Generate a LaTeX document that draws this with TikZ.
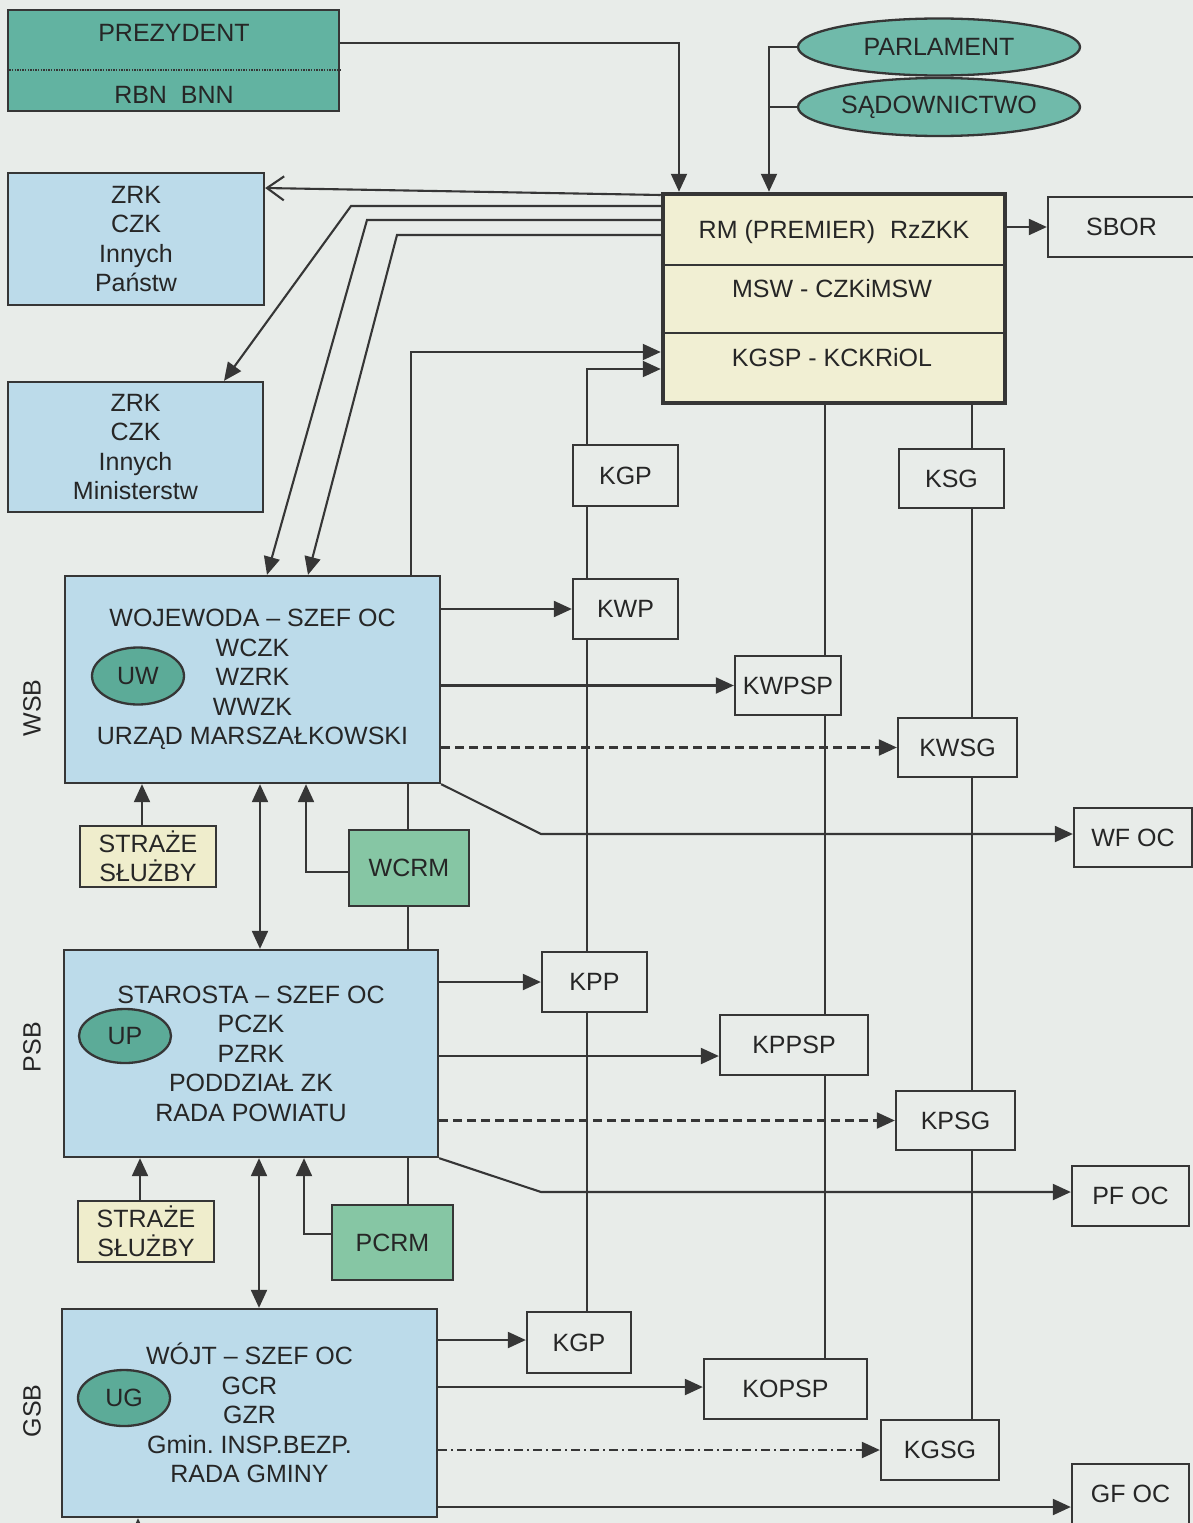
\documentclass[tikz,border=0pt]{standalone}
\usepackage{fontspec}
\setmainfont{Liberation Sans}
\usetikzlibrary{shapes.geometric,arrows.meta}
\frenchspacing
\definecolor{cBg}{HTML}{E8ECE9}
\definecolor{cTeal}{HTML}{62B3A1}
\definecolor{cTealE}{HTML}{70BAAA}
\definecolor{cTealS}{HTML}{5CAB98}
\definecolor{cBlue}{HTML}{BCDBEA}
\definecolor{cGreen}{HTML}{86C6A4}
\definecolor{cYel}{HTML}{EFEDCC}
\definecolor{cRM}{HTML}{F1EFD3}
\definecolor{cLine}{HTML}{363636}
\definecolor{cText}{HTML}{262626}
\tikzset{
  lbl/.style={text=cText, font=\fontsize{25}{29.5}\selectfont, align=center, inner sep=0pt},
  shp/.style={lbl, draw=cLine, line width=2.3pt},
  kbox/.style={shp, rectangle},
  bbox/.style={shp, rectangle, fill=cBlue},
  gbox/.style={shp, rectangle, fill=cGreen},
  ybox/.style={shp, rectangle, fill=cYel},
  oval/.style={shp, ellipse, fill=cTealS},
  conn/.style={draw=cLine, line width=2.1pt},
  arr/.style={conn, -{Triangle[length=18pt,width=16pt]}},
  darr/.style={conn, {Triangle[length=18pt,width=16pt]}-{Triangle[length=18pt,width=16pt]}},
  oarr/.style={conn, -{Straight Barb[length=17pt,width=24pt]}},
  dsh/.style={dash pattern=on 9pt off 5pt},
  dshdot/.style={dash pattern=on 9pt off 4pt on 2pt off 4pt},
}
\begin{document}
\begin{tikzpicture}[x=1pt,y=-1pt]
\useasboundingbox (0,0) rectangle (1193,1523);
\clip (0,0) rectangle (1193,1523);
\fill[cBg] (0,0) rectangle (1193,1523);

% ---------- top level ----------
\node[shp, rectangle, fill=cTeal, minimum width=331pt, minimum height=101pt] (prez) at (173.5,60.5) {};
\node[lbl] (prezA) at (174,33) {PREZYDENT};
\node[lbl] (prezB) at (174,95) {RBN\ \ BNN};
\draw[draw=cLine, line width=1.3pt, dash pattern=on 1.3pt off 1.3pt] (prez.west |- 0,70) -- (prez.east |- 0,70);

\node[shp, ellipse, fill=cTealE, minimum width=282pt, minimum height=57pt] (parl) at (939,47) {PARLAMENT};
\node[shp, ellipse, fill=cTealE, minimum width=282pt, minimum height=58pt] (sad) at (939,107) {SĄDOWNICTWO};

\node[shp, rectangle, fill=cRM, line width=4.5pt, minimum width=342pt, minimum height=209pt] (rm) at (834,298.5) {};
\draw[conn, line width=2.5pt] (rm.west |- 0,265) -- (rm.east |- 0,265);
\draw[conn, line width=2.5pt] (rm.west |- 0,333) -- (rm.east |- 0,333);
\node[lbl] (rmA) at (834,232) {RM (PREMIER)\hspace{0.6em}RzZKK};
\node[lbl] (rmB) at (832,289) {MSW - CZKiMSW};
\node[lbl] (rmC) at (832,358) {KGSP - KCKRiOL};

\node[kbox, minimum width=147pt, minimum height=60pt] (sbor) at (1121.5,227) {SBOR};

% ---------- blue boxes ----------
\node[bbox, minimum width=256pt, minimum height=132pt] (zrk1) at (136,239) {ZRK\\CZK\\Innych\\Państw};
\node[bbox, minimum width=255pt, minimum height=130pt] (zrk2) at (135.5,447) {ZRK\\CZK\\Innych\\Ministerstw};
\node[bbox, minimum width=375pt, minimum height=207pt] (woj) at (252.5,679.5) {WOJEWODA – SZEF OC\\WCZK\\WZRK\\WWZK\\URZĄD MARSZAŁKOWSKI};
\node[oval, minimum width=92pt, minimum height=57pt] (uw) at (138,676) {UW};
\node[bbox, minimum width=374pt, minimum height=207pt] (psb) at (251,1053.5) {STAROSTA – SZEF OC\\PCZK\\PZRK\\PODDZIAŁ ZK\\RADA POWIATU};
\node[oval, minimum width=92pt, minimum height=54pt] (up) at (125,1036) {UP};
\node[bbox, minimum width=375pt, minimum height=208pt] (gsb) at (249.5,1413) {WÓJT – SZEF OC\\GCR\\GZR\\Gmin. INSP.BEZP.\\RADA GMINY};
\node[oval, minimum width=92pt, minimum height=56pt] (ug) at (124,1398) {UG};

\node[lbl, rotate=90] (wsbL) at (32,708) {WSB};
\node[lbl, rotate=90] (psbL) at (32,1047) {PSB};
\node[lbl, rotate=90] (gsbL) at (32,1411) {GSB};

% ---------- yellow / green ----------
\node[ybox, minimum width=136pt, minimum height=61pt] (strA) at (148,856.5) {STRAŻE\\SŁUŻBY};
\node[ybox, minimum width=136pt, minimum height=61pt] (strB) at (146,1231.5) {STRAŻE\\SŁUŻBY};
\node[gbox, minimum width=120pt, minimum height=76pt] (wcrm) at (409,868) {WCRM};
\node[gbox, minimum width=121pt, minimum height=75pt] (pcrm) at (392.5,1242.5) {PCRM};

% ---------- K boxes ----------
\node[kbox, minimum width=105pt, minimum height=61pt] (kgpA) at (625.5,475.5) {KGP};
\node[kbox, minimum width=105pt, minimum height=60pt] (kwp) at (625.5,609) {KWP};
\node[kbox, minimum width=105pt, minimum height=59pt] (ksg) at (951.5,478.5) {KSG};
\node[kbox, minimum width=106pt, minimum height=59pt] (kwpsp) at (788,685.5) {KWPSP};
\node[kbox, minimum width=119pt, minimum height=59pt] (kwsg) at (957.5,747.5) {KWSG};
\node[kbox, minimum width=118pt, minimum height=59pt] (wfoc) at (1133,837.5) {WF OC};
\node[kbox, minimum width=105pt, minimum height=60pt] (kpp) at (594.5,982) {KPP};
\node[kbox, minimum width=148pt, minimum height=60pt] (kppsp) at (794,1045) {KPPSP};
\node[kbox, minimum width=119pt, minimum height=59pt] (kpsg) at (955.5,1120.5) {KPSG};
\node[kbox, minimum width=117pt, minimum height=60pt] (pfoc) at (1130.5,1196) {PF OC};
\node[kbox, minimum width=104pt, minimum height=61pt] (kgpB) at (579,1342.5) {KGP};
\node[kbox, minimum width=163pt, minimum height=60pt] (kopsp) at (785.5,1389) {KOPSP};
\node[kbox, minimum width=118pt, minimum height=60pt] (kgsg) at (940,1450) {KGSG};
\node[kbox, minimum width=117pt, minimum height=60pt] (gfoc) at (1130.5,1494) {GF OC};

% ---------- connectors: top ----------
\draw[arr] (prez.east |- 0,43) -| (rm.north -| 679,0);
\draw[arr] (parl.west) -| (rm.north -| 769,0);
\draw[conn] (sad.west) -- (sad.west -| 769,0);
\draw[arr] (rm.east |- sbor.west) -- (sbor.west);
\draw[oarr] (rm.west |- 0,195) -- (zrk1.east |- 0,188);
\draw[arr] (rm.west |- 0,206) -- (351,206) -- (zrk2.north -| 224,0);
\draw[arr] (rm.west |- 0,220) -- (367,220) -- (woj.north -| 267,0);
\draw[arr] (rm.west |- 0,235) -- (397,235) -- (woj.north -| 308,0);
\draw[arr] (woj.north -| 411,0) |- (rm.west |- 0,352);
\draw[arr] (kgpA.north -| 587,0) |- (rm.west |- 0,369);

% ---------- vertical chains ----------
\draw[conn] (kgpA.south -| 587,0) -- (kwp.north -| 587,0);
\draw[conn] (kwp.south -| 587,0) -- (kpp.north -| 587,0);
\draw[conn] (kpp.south -| 587,0) -- (kgpB.north -| 587,0);
\draw[conn] (rm.south -| 825,0) -- (kwpsp.north -| 825,0);
\draw[conn] (kwpsp.south -| 825,0) -- (kppsp.north -| 825,0);
\draw[conn] (kppsp.south -| 825,0) -- (kopsp.north -| 825,0);
\draw[conn] (rm.south -| 972,0) -- (ksg.north -| 972,0);
\draw[conn] (ksg.south -| 972,0) -- (kwsg.north -| 972,0);
\draw[conn] (kwsg.south -| 972,0) -- (kpsg.north -| 972,0);
\draw[conn] (kpsg.south -| 972,0) -- (kgsg.north -| 972,0);

% ---------- WSB ----------
\draw[arr] (woj.east |- kwp.west) -- (kwp.west);
\draw[arr] (woj.east |- kwpsp.west) -- (kwpsp.west);
\draw[arr, dsh] (woj.east |- kwsg.west) -- (kwsg.west);
\draw[arr] (woj.south east) -- (541,834) -- (wfoc.west |- 0,834);
\draw[arr] (strA.north -| 142,0) -- (woj.south -| 142,0);
\draw[darr] (woj.south -| 260,0) -- (psb.north -| 260,0);
\draw[arr] (wcrm.west |- 0,872) -| (woj.south -| 306,0);
\draw[conn] (woj.south -| 408,0) -- (wcrm.north -| 408,0);
\draw[conn] (wcrm.south -| 408,0) -- (psb.north -| 408,0);

% ---------- PSB ----------
\draw[arr] (psb.east |- kpp.west) -- (kpp.west);
\draw[arr] (psb.east |- 0,1056) -- (kppsp.west |- 0,1056);
\draw[arr, dsh] (psb.east |- kpsg.west) -- (kpsg.west);
\draw[arr] (psb.south east) -- (541,1192) -- (pfoc.west |- 0,1192);
\draw[arr] (strB.north -| 140,0) -- (psb.south -| 140,0);
\draw[darr] (psb.south -| 259,0) -- (gsb.north -| 259,0);
\draw[arr] (pcrm.west |- 0,1234) -| (psb.south -| 304,0);
\draw[conn] (psb.south -| 408,0) -- (pcrm.north -| 408,0);

% ---------- GSB ----------
\draw[arr] (gsb.east |- 0,1340) -- (kgpB.west |- 0,1340);
\draw[arr] (gsb.east |- 0,1387) -- (kopsp.west |- 0,1387);
\draw[arr, dshdot] (gsb.east |- kgsg.west) -- (kgsg.west);
\draw[arr] (gsb.east |- 0,1507) -- (gfoc.west |- 0,1507);
\coordinate (gsbIn) at (138,1545);
\draw[arr] (gsbIn) -- (gsb.south -| 138,0);
\end{tikzpicture}
\end{document}
